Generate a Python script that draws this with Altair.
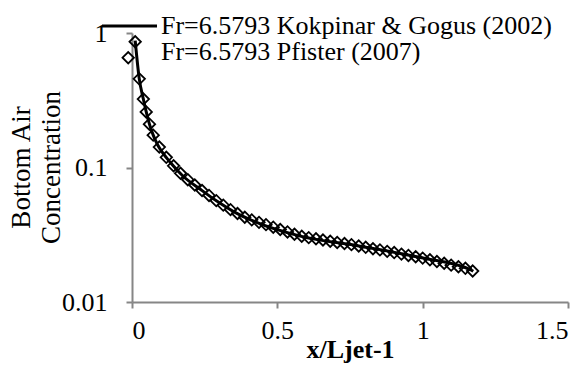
import altair as alt
import pandas as pd

# Kokpinar & Gogus (2002) curve
k_x = [0.011, 0.025, 0.039, 0.049, 0.060, 0.073, 0.087, 0.104, 0.132, 0.176,
       0.235, 0.293, 0.348, 0.397, 0.579, 0.785, 0.992, 1.164, 1.174]
k_y = [0.877, 0.456, 0.323, 0.259, 0.210, 0.174, 0.149, 0.130, 0.109, 0.0861,
       0.0689, 0.0560, 0.0472, 0.0418, 0.0309, 0.0260, 0.0214, 0.0174, 0.0169]

# Pfister (2007) points
p_x = [-0.013, 0.011, 0.025, 0.039, 0.049, 0.060, 0.073, 0.094, 0.118, 0.143,
       0.167, 0.192, 0.216, 0.241, 0.265, 0.290, 0.314, 0.339, 0.363, 0.388,
       0.412, 0.437, 0.461, 0.486, 0.510, 0.535, 0.559, 0.584, 0.608, 0.633,
       0.657, 0.682, 0.706, 0.731, 0.755, 0.780, 0.804, 0.829, 0.853, 0.878,
       0.902, 0.927, 0.951, 0.976, 1.000, 1.025, 1.049, 1.074, 1.098, 1.123,
       1.147, 1.172]
p_y = [0.655, 0.861, 0.456, 0.323, 0.259, 0.210, 0.174, 0.142, 0.119, 0.103,
       0.0906, 0.0812, 0.0741, 0.0674, 0.0620, 0.0567, 0.0525, 0.0486, 0.0455, 0.0427,
       0.0408, 0.0391, 0.0376, 0.0360, 0.0346, 0.0332, 0.0319, 0.0308, 0.0301, 0.0295,
       0.0289, 0.0283, 0.0277, 0.0272, 0.0267, 0.0261, 0.0255, 0.0249, 0.0244, 0.0238,
       0.0233, 0.0227, 0.0222, 0.0217, 0.0212, 0.0206, 0.0200, 0.0194, 0.0188, 0.0183,
       0.0178, 0.0170]

s_k = "Fr=6.5793 Kokpinar & Gogus (2002)"
s_p = "Fr=6.5793 Pfister (2007)"
x_ticks = [0, 0.5, 1, 1.5]
y_ticks = [0.01, 0.1, 1]

df_k = pd.DataFrame({"x": k_x, "y": k_y, "series": s_k})
df_p = pd.DataFrame({"x": p_x, "y": p_y, "series": s_p})

FONT = "Liberation Serif"
GRAY = "#868686"

x_enc = alt.X("x:Q", scale=alt.Scale(domain=[0, 1.5], nice=False),
              axis=alt.Axis(values=x_ticks, format="~g", title="x/Ljet-1",
                            grid=False, labelPadding=9, titlePadding=-7,
                            titleFontWeight="bold"))
y_enc = alt.Y("y:Q", scale=alt.Scale(type="log", domain=[0.01, 1], nice=False),
              axis=alt.Axis(values=y_ticks, format="~g",
                            title=["Bottom Air", "Concentration"],
                            grid=False, labelPadding=19,
                            titleX=-97, titleY=134, titleAngle=270,
                            titleAlign="center", titleBaseline="bottom",
                            titleLineHeight=30, titleFontSize=27,
                            titleFontWeight="normal"))

line = alt.Chart(df_k).mark_line(strokeWidth=3, interpolate="monotone").encode(
    x=x_enc, y=y_enc,
    color=alt.Color("series:N",
                    scale=alt.Scale(domain=[s_k, s_p], range=["black", "transparent"]),
                    legend=alt.Legend(title=None, orient="none", legendX=-15.5, legendY=-20,
                                      symbolType="M-2.5,0H2.5", symbolSize=484,
                                      symbolStrokeWidth=3, labelFont=FONT,
                                      labelFontSize=26, labelOffset=18.5, labelLimit=600,
                                      rowPadding=-6, padding=0, labelColor="black")),
)

pts = alt.Chart(df_p).mark_point(shape="diamond", filled=False, size=130,
                                 strokeWidth=1.8, opacity=1).encode(
    x="x:Q", y="y:Q", color=alt.value("black"))

chart = alt.layer(line, pts).properties(
    width=436, height=269,
    autosize=alt.AutoSizeParams(type="none"),
    padding={"left": 132, "top": 33, "right": 17, "bottom": 63},
    background="white",
).configure_view(stroke=None).configure_axis(
    domainColor=GRAY, domainWidth=2, tickColor=GRAY, tickWidth=2, tickSize=6,
    labelFont=FONT, labelFontSize=26, labelColor="black",
    titleFont=FONT, titleFontSize=26, titleColor="black",
)

chart.save("out.html", embed_options={"renderer": "svg", "actions": False})
